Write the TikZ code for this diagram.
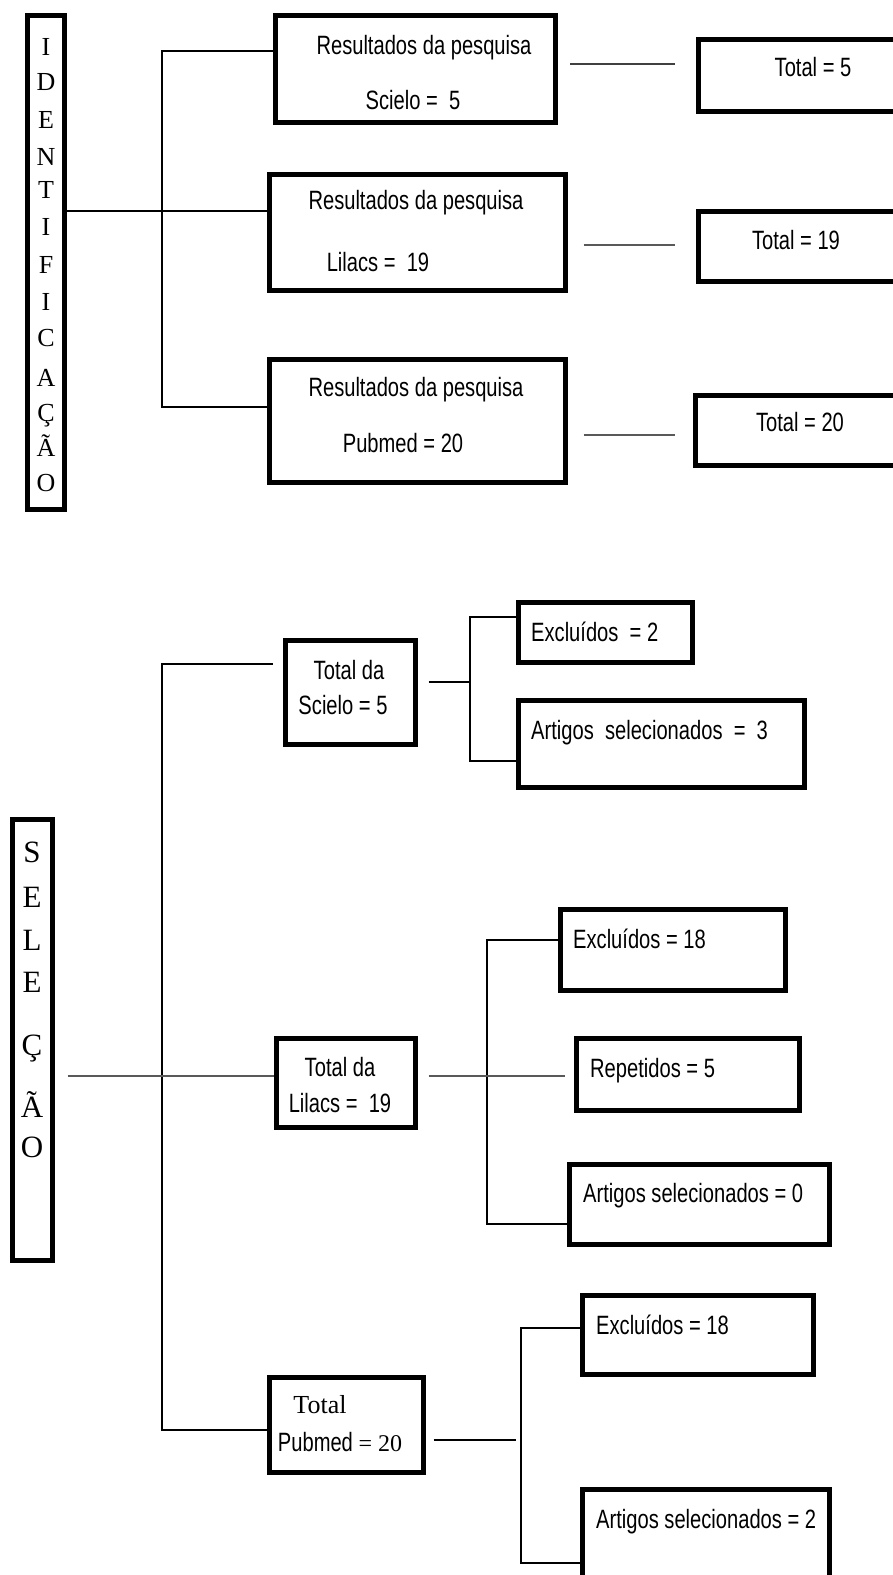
\documentclass[tikz,border=0pt]{standalone}
\usepackage{fontspec}
\setmainfont{Liberation Serif}
\newfontfamily\nar[FakeStretch=0.76]{Liberation Sans}
\tikzset{
  box/.style={draw=black, line width=5pt, inner sep=0pt},
  conn/.style={draw=black, line width=1.5pt},
  gconn/.style={draw=gray!70!black, line width=2.8pt},
  txt/.style={font=\nar\fontsize{26.5}{29}\selectfont, inner sep=0pt, text height=19pt, text depth=0pt},
  stxt/.style={font=\rmfamily\fontsize{26}{28}\selectfont, inner sep=0pt, text height=17pt, text depth=0pt},
  vl/.style={font=\rmfamily\fontsize{26}{28}\selectfont, inner sep=0pt, text height=17pt, text depth=0pt},
  vlb/.style={font=\rmfamily\fontsize{31}{33}\selectfont, inner sep=0pt, text height=20.5pt, text depth=0pt}
}
\begin{document}
\begin{tikzpicture}[x=1pt,y=-1pt]
\fill[white] (0,0) rectangle (892,1575);
\useasboundingbox (0,0) rectangle (892,1575);

% ---------- IDENTIFICACAO ----------
\node[box, minimum width=37pt, minimum height=494pt] (ident) at (46,262.5) {};
\node[box, minimum width=280pt, minimum height=107pt] (r1) at (415.5,69) {};
\node[box, minimum width=296pt, minimum height=116pt] (r2) at (417.5,232.5) {};
\node[box, minimum width=296pt, minimum height=123pt] (r3) at (417.5,421) {};
\node[box, minimum width=219pt, minimum height=72pt] (t1) at (808,75.5) {};
\node[box, minimum width=219pt, minimum height=70pt] (t2) at (808,246.5) {};
\node[box, minimum width=222pt, minimum height=70pt] (t3) at (806.5,430.5) {};

\foreach \l/\y [count=\i] in {I/47,D/82,E/120,N/157,T/190,I/227,F/265,I/302,C/338,A/378,Ç/413,Ã/448,O/483}
  \node[vl] (id\i) at (46,\y) {\l};

\coordinate (b1t) at (162,51);
\coordinate (b1m) at (162,211);
\coordinate (b1b) at (162,407);
\draw[conn] (r1.west |- b1t) -- (b1t) -- (b1b) -- (r3.west |- b1b);
\draw[conn] (ident.east |- b1m) -- (r2.west |- b1m);

\coordinate (g1) at (0,64);
\coordinate (g2) at (0,245);
\coordinate (g3) at (0,435);
\draw[draw=gray!50!black, line width=2pt, shorten <=12pt, shorten >=21pt] (r1.east |- g1) -- (t1.west |- g1);
\draw[gconn, shorten <=15.5pt, shorten >=21.5pt] (r2.east |- g2) -- (t2.west |- g2);
\draw[gconn, shorten <=15.5pt, shorten >=18.5pt] (r3.east |- g3) -- (t3.west |- g3);

\node[txt] (r1a) at (424,45) {Resultados da pesquisa};
\node[txt] (r1b) at (413,100) {Scielo = \ 5};
\node[txt] (r2a) at (416,200) {Resultados da pesquisa};
\node[txt] (r2b) at (378,262) {Lilacs = \ 19};
\node[txt] (r3a) at (416,387) {Resultados da pesquisa};
\node[txt] (r3b) at (403,443) {Pubmed = 20};
\node[txt] (t1a) at (813,67) {Total = 5};
\node[txt] (t2a) at (796,240) {Total = 19};
\node[txt] (t3a) at (800,422) {Total = 20};

% ---------- SELECAO ----------
\node[box, minimum width=40pt, minimum height=441pt] (sel) at (32.5,1040) {};
\node[box, minimum width=130pt, minimum height=104pt] (ts) at (350.5,692.5) {};
\node[box, minimum width=139pt, minimum height=89pt] (tl) at (346,1083) {};
\node[box, minimum width=154pt, minimum height=95pt] (tp) at (346.5,1425) {};
\node[box, minimum width=174pt, minimum height=60pt] (e2) at (605.5,632.5) {};
\node[box, minimum width=286pt, minimum height=87pt] (a3) at (661.5,744) {};
\node[box, minimum width=225pt, minimum height=81pt] (e18a) at (673,950) {};
\node[box, minimum width=223pt, minimum height=72pt] (rep) at (688,1074.5) {};
\node[box, minimum width=260pt, minimum height=80pt] (a0) at (699.5,1204.5) {};
\node[box, minimum width=231pt, minimum height=79pt] (e18b) at (698,1335) {};
\node[box, minimum width=247pt, minimum height=108pt] (a2) at (706,1543.5) {};

\foreach \l/\y [count=\i] in {S/852,E/897,L/940,E/982,Ç/1045,Ã/1107,O/1147}
  \node[vlb] (se\i) at (32,\y) {\l};

\coordinate (b2t) at (162,664);
\coordinate (b2b) at (162,1430);
\coordinate (h2) at (0,1076);
\draw[conn, shorten <=10.5pt] (ts.west |- b2t) -- (b2t) -- (b2b) -- (tp.west |- b2b);
\draw[gconn, shorten <=12.5pt] (sel.east |- h2) -- (tl.west |- h2);

% Scielo group
\coordinate (s1) at (470,682);
\coordinate (s1t) at (470,617);
\coordinate (s1b) at (470,761);
\draw[conn, shorten <=10.5pt] (ts.east |- s1) -- (s1);
\draw[conn] (e2.west |- s1t) -- (s1t) -- (s1b) -- (a3.west |- s1b);

% Lilacs group
\coordinate (l1t) at (487,940);
\coordinate (l1b) at (487,1224);
\draw[conn] (e18a.west |- l1t) -- (l1t) -- (l1b) -- (a0.west |- l1b);
\draw[gconn, shorten <=10.5pt, shorten >=9.5pt] (tl.east |- h2) -- (rep.west |- h2);

% Pubmed group
\coordinate (p1t) at (521,1328);
\coordinate (p1b) at (521,1563);
\coordinate (p1m) at (516,1440);
\draw[conn] (e18b.west |- p1t) -- (p1t) -- (p1b) -- (a2.west |- p1b);
\draw[draw=black, line width=2.5pt, shorten <=7.5pt] (tp.east |- p1m) -- (p1m);

\node[txt] (tsa) at (349,670) {Total da};
\node[txt] (tsb) at (343,705) {Scielo = 5};
\node[txt] (tla) at (340,1067) {Total da};
\node[txt] (tlb) at (340,1103) {Lilacs = \ 19};
\node[stxt] (tpa) at (320,1405) {Total};
\node[txt] (tpb) at (340,1442) {Pubmed {\rmfamily\fontsize{24}{26}\selectfont = 20}};

\node[txt, anchor=west] (e2a) at (531,632) {Excluídos \ = 2};
\node[txt, anchor=west] (a3a) at (531,730) {Artigos \ selecionados \ = \ 3};
\node[txt, anchor=west] (e18aa) at (573,939) {Excluídos = 18};
\node[txt, anchor=west] (repa) at (590,1068) {Repetidos = 5};
\node[txt, anchor=west] (a0a) at (583,1193) {Artigos selecionados = 0};
\node[txt, anchor=west] (e18ba) at (596,1325) {Excluídos = 18};
\node[txt, anchor=west] (a2a) at (596,1519) {Artigos selecionados = 2};
\end{tikzpicture}
\end{document}
